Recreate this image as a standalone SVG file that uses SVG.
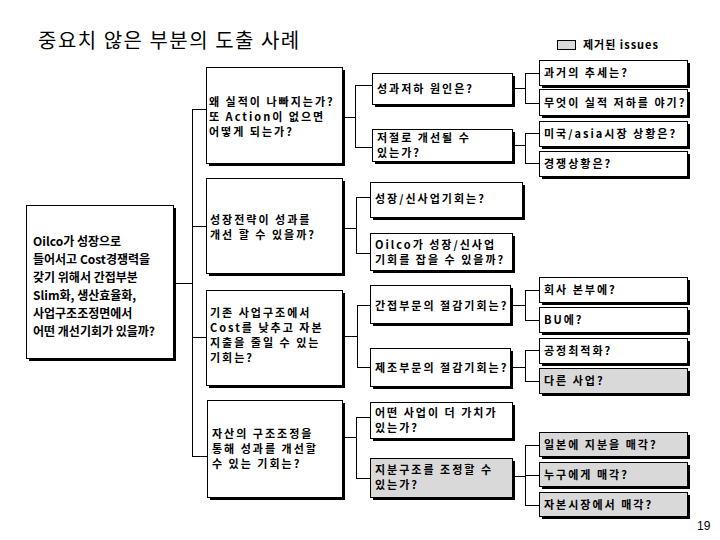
<svg xmlns="http://www.w3.org/2000/svg" width="720" height="540" viewBox="0 0 720 540">
<style>
.sh{fill:#000}
.bx{fill:#fff;stroke:#000;stroke-width:1}
.gr{fill:#d9d9d9;stroke:#000;stroke-width:1}
.t{font-family:"Noto Sans CJK KR","Liberation Sans",sans-serif;font-size:11px;font-weight:bold;letter-spacing:2px;fill:#000}
.tl{font-family:"Noto Sans CJK KR","Liberation Sans",sans-serif;font-size:12px;font-weight:bold;fill:#000}
.c{fill:none;stroke:#000;stroke-width:1}
</style>
<rect width="720" height="540" fill="#fff"/>
<text x="38" y="48" font-family="Noto Sans CJK KR, sans-serif" font-size="20" letter-spacing="1.5" fill="#000">중요치 않은 부분의 도출 사례</text>
<g id="legend">
<rect x="557.5" y="40.5" width="18" height="9" class="gr"/>
<text x="583" y="49" class="t" style="letter-spacing:1px">제거된 issues</text>
</g>
<g id="connectors">
<path class="c" d="M192.5,109 V456.5 M192,109.5 H206 M176,283.5 H192 M192,226.5 H206 M192,337.5 H206 M192,456.5 H207"/>
<path class="c" d="M342,117.5 H355.5 M355.5,85 V147.5 M355,85.5 H372 M355,147.5 H372"/>
<path class="c" d="M342,228.5 H356.5 M356.5,197 V253.5 M356,197.5 H370 M356,253.5 H370"/>
<path class="c" d="M342,336.5 H357.5 M357.5,305 V367.5 M357,305.5 H370 M357,367.5 H370"/>
<path class="c" d="M342,437.5 H356.5 M356.5,417 V478.5 M356,417.5 H370 M356,478.5 H370"/>
<path class="c" d="M512,88.5 H525.5 M525.5,73 V103.5 M525,73.5 H539 M525,103.5 H539"/>
<path class="c" d="M512,145.5 H525.5 M525.5,133 V163.5 M525,133.5 H539 M525,163.5 H539"/>
<path class="c" d="M510,305.5 H525.5 M525.5,290 V320.5 M525,290.5 H539 M525,320.5 H539"/>
<path class="c" d="M510,367.5 H525.5 M525.5,350 V381.5 M525,350.5 H539 M525,381.5 H539"/>
<path class="c" d="M512,476.5 H525.5 M525.5,445 V505.5 M525,445.5 H539 M525,475.5 H539 M525,505.5 H539"/>
</g>
<g id="n-left">
<rect x="29" y="208" width="147" height="153" class="sh"/>
<rect x="26.5" y="205.5" width="147" height="153" class="bx"/>
<text class="tl"><tspan x="33" y="246">Oilco가 성장으로</tspan><tspan x="33" y="264">들어서고 Cost경쟁력을</tspan><tspan x="33" y="282">갖기 위해서 간접부분</tspan><tspan x="33" y="300">Slim화, 생산효율화,</tspan><tspan x="33" y="318">사업구조조정면에서</tspan><tspan x="33" y="336">어떤 개선기회가 있을까?</tspan></text>
</g>
<g id="n1">
<rect x="209" y="70" width="136" height="96" class="sh"/>
<rect x="206.5" y="67.5" width="136" height="96" class="bx"/>
<text class="t"><tspan x="209" y="106">왜 실적이 나빠지는가?</tspan><tspan x="209" y="121">또 Action이 없으면</tspan><tspan x="209" y="136">어떻게 되는가?</tspan></text>
</g>
<g id="n2">
<rect x="209" y="181" width="136" height="95" class="sh"/>
<rect x="206.5" y="178.5" width="136" height="95" class="bx"/>
<text class="t"><tspan x="210" y="224">성장전략이 성과를</tspan><tspan x="210" y="239">개선 할 수 있을까?</tspan></text>
</g>
<g id="n3">
<rect x="209" y="293" width="136" height="95" class="sh"/>
<rect x="206.5" y="290.5" width="136" height="95" class="bx"/>
<text class="t"><tspan x="210" y="317">기존 사업구조에서</tspan><tspan x="210" y="332">Cost를 낮추고 자본</tspan><tspan x="210" y="347">지출을 줄일 수 있는</tspan><tspan x="210" y="362">기회는?</tspan></text>
</g>
<g id="n4">
<rect x="210" y="403" width="135" height="97" class="sh"/>
<rect x="207.5" y="400.5" width="135" height="97" class="bx"/>
<text class="t"><tspan x="212" y="438">자산의 구조조정을</tspan><tspan x="212" y="453">통해 성과를 개선할</tspan><tspan x="212" y="468">수 있는 기회는?</tspan></text>
</g>
<g id="nA">
<rect x="375" y="76" width="140" height="31" class="sh"/>
<rect x="372.5" y="73.5" width="140" height="31" class="bx"/>
<text class="t" x="377" y="93">성과저하 원인은?</text>
</g>
<g id="nB">
<rect x="375" y="132" width="140" height="32" class="sh"/>
<rect x="372.5" y="129.5" width="140" height="32" class="bx"/>
<text class="t"><tspan x="377" y="142">저절로 개선될 수</tspan><tspan x="377" y="157">있는가?</tspan></text>
</g>
<g id="nC">
<rect x="373" y="185" width="152" height="35" class="sh"/>
<rect x="370.5" y="182.5" width="152" height="35" class="bx"/>
<text class="t" x="375" y="203">성장/신사업기회는?</text>
</g>
<g id="nD">
<rect x="373" y="236" width="142" height="37" class="sh"/>
<rect x="370.5" y="233.5" width="142" height="37" class="bx"/>
<text class="t"><tspan x="375" y="249">Oilco가 성장/신사업</tspan><tspan x="375" y="264">기회를 잡을 수 있을까?</tspan></text>
</g>
<g id="nE">
<rect x="373" y="288" width="140" height="38" class="sh"/>
<rect x="370.5" y="285.5" width="140" height="38" class="bx"/>
<text class="t" x="375" y="310">간접부문의 절감기회는?</text>
</g>
<g id="nF">
<rect x="373" y="351" width="140" height="38" class="sh"/>
<rect x="370.5" y="348.5" width="140" height="38" class="bx"/>
<text class="t" x="375" y="372">제조부문의 절감기회는?</text>
</g>
<g id="nG">
<rect x="373" y="405" width="142" height="36" class="sh"/>
<rect x="370.5" y="402.5" width="142" height="36" class="bx"/>
<text class="t"><tspan x="375" y="417">어떤 사업이 더 가치가</tspan><tspan x="375" y="432">있는가?</tspan></text>
</g>
<g id="nH">
<rect x="373" y="461" width="142" height="39" class="sh"/>
<rect x="370.5" y="458.5" width="142" height="39" class="gr"/>
<text class="t"><tspan x="375" y="474">지분구조를 조정할 수</tspan><tspan x="375" y="489">있는가?</tspan></text>
</g>
<g id="r1">
<rect x="542" y="63" width="148" height="25" class="sh"/>
<rect x="539.5" y="60.5" width="148" height="25" class="bx"/>
<text class="t" x="544" y="77">과거의 추세는?</text>
</g>
<g id="r2">
<rect x="542" y="92" width="148" height="26" class="sh"/>
<rect x="539.5" y="89.5" width="148" height="26" class="bx"/>
<text class="t" x="544" y="107">무엇이 실적 저하를 야기?</text>
</g>
<g id="r3">
<rect x="542" y="124" width="148" height="25" class="sh"/>
<rect x="539.5" y="121.5" width="148" height="25" class="bx"/>
<text class="t" x="544" y="138">미국/asia시장 상황은?</text>
</g>
<g id="r4">
<rect x="542" y="154" width="148" height="25" class="sh"/>
<rect x="539.5" y="151.5" width="148" height="25" class="bx"/>
<text class="t" x="544" y="168">경쟁상황은?</text>
</g>
<g id="r5">
<rect x="542" y="280" width="148" height="25" class="sh"/>
<rect x="539.5" y="277.5" width="148" height="25" class="bx"/>
<text class="t" x="544" y="294">회사 본부에?</text>
</g>
<g id="r6">
<rect x="542" y="310" width="148" height="25" class="sh"/>
<rect x="539.5" y="307.5" width="148" height="25" class="bx"/>
<text class="t" x="544" y="324">BU에?</text>
</g>
<g id="r7">
<rect x="542" y="341" width="148" height="25" class="sh"/>
<rect x="539.5" y="338.5" width="148" height="25" class="bx"/>
<text class="t" x="544" y="355">공정최적화?</text>
</g>
<g id="r8">
<rect x="542" y="371" width="148" height="25" class="sh"/>
<rect x="539.5" y="368.5" width="148" height="25" class="gr"/>
<text class="t" x="544" y="385">다른 사업?</text>
</g>
<g id="r9">
<rect x="542" y="435" width="148" height="24" class="sh"/>
<rect x="539.5" y="432.5" width="148" height="24" class="gr"/>
<text class="t" x="544" y="449">일본에 지분을 매각?</text>
</g>
<g id="r10">
<rect x="542" y="465" width="148" height="24" class="sh"/>
<rect x="539.5" y="462.5" width="148" height="24" class="gr"/>
<text class="t" x="544" y="479">누구에게 매각?</text>
</g>
<g id="r11">
<rect x="542" y="495" width="148" height="24" class="sh"/>
<rect x="539.5" y="492.5" width="148" height="24" class="gr"/>
<text class="t" x="544" y="509">자본시장에서 매각?</text>
</g>
<text x="697" y="530" font-family="Liberation Sans, Arial, sans-serif" font-size="12" fill="#000">19</text>
</svg>
